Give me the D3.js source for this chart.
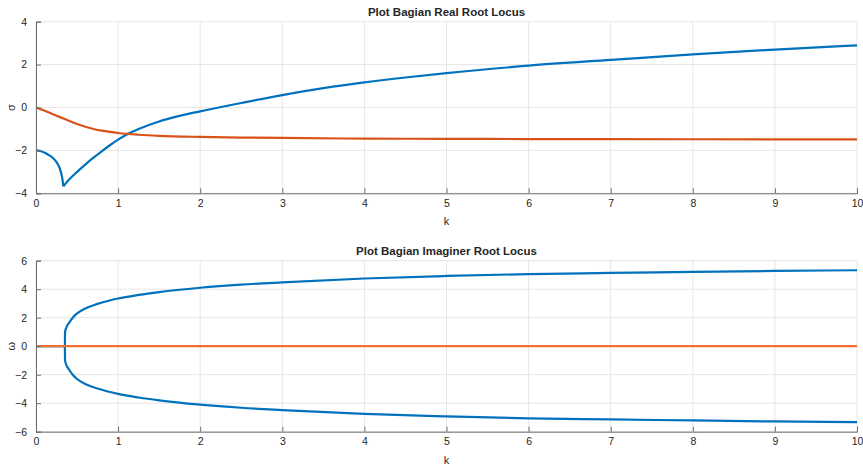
<!DOCTYPE html>
<html lang="en">
  <head>
    <meta charset="UTF-8" />
    <title>Root Locus</title>
    <script src="https://cdn.jsdelivr.net/npm/d3@7"></script>
    <style>
      body { margin: 0; background: #fff; }
      text { font-family: "Liberation Sans", Arial, sans-serif; fill: #262626; }
    </style>
  </head>
  <body>
    <svg id="chart" width="863" height="465"></svg>
    <script>
      // x axis (gain k)
      const kTicks = [0, 1, 2, 3, 4, 5, 6, 7, 8, 9, 10];
      const sigmaTicks = [-4, -2, 0, 2, 4];
      const omegaTicks = [-6, -4, -2, 0, 2, 4, 6];

      // real part, blue branch (before and after the cusp)
      const blueReBefore = [
        [0, -2.0], [0.05, -2.03], [0.1, -2.1], [0.15, -2.2], [0.2, -2.33],
        [0.25, -2.55], [0.28, -2.75], [0.3, -2.97], [0.32, -3.3], [0.333, -3.68]
      ];
      const blueReAfter = [
        [0.333, -3.68], [0.36, -3.55], [0.4, -3.37], [0.5, -3.0], [0.6, -2.66],
        [0.7, -2.34], [0.8, -2.04], [0.9, -1.76], [1.0, -1.5], [1.1, -1.27],
        [1.25, -1.0], [1.5, -0.65], [1.75, -0.39], [2, -0.18], [2.5, 0.21],
        [3, 0.58], [3.5, 0.9], [4, 1.17], [4.5, 1.4], [5, 1.6], [6, 1.95],
        [7, 2.22], [8, 2.48], [9, 2.7], [10, 2.9]
      ];
      // real part, orange branch
      const orangeRe = [
        [0, 0], [0.1, -0.14], [0.2, -0.3], [0.3, -0.46], [0.4, -0.62],
        [0.5, -0.77], [0.6, -0.9], [0.7, -1.0], [0.8, -1.08], [0.9, -1.14],
        [1.0, -1.19], [1.25, -1.27], [1.5, -1.32], [2, -1.37], [2.5, -1.4],
        [3, -1.42], [4, -1.45], [5, -1.46], [6, -1.47], [8, -1.48], [10, -1.49]
      ];

      // imaginary part, blue branch (upper and lower)
      const blueImFlat = [[0, 0], [0.352, 0]];
      const blueImUpper = [
        [0.352, 0], [0.354, 1.0], [0.37, 1.32], [0.4, 1.62], [0.45, 2.02],
        [0.5, 2.3], [0.6, 2.65], [0.75, 2.97], [1, 3.35], [1.25, 3.6],
        [1.5, 3.8], [2, 4.1], [2.5, 4.32], [3, 4.48], [4, 4.75], [5, 4.93],
        [6, 5.06], [7, 5.14], [8, 5.21], [9, 5.28], [10, 5.33]
      ];
      const blueImLower = [
        [0.352, 0], [0.354, -1.0], [0.37, -1.32], [0.4, -1.62], [0.45, -2.02],
        [0.5, -2.3], [0.6, -2.65], [0.75, -2.97], [1, -3.35], [1.25, -3.6],
        [1.5, -3.8], [2, -4.1], [2.5, -4.32], [3, -4.48], [4, -4.75], [5, -4.93],
        [6, -5.06], [7, -5.14], [8, -5.21], [9, -5.28], [10, -5.33]
      ];
      // imaginary part, orange branch
      const orangeIm = [[0, 0], [10, 0]];

      const svg = d3.select("#chart");
      const left = 36, right = 857;

      function drawPanel(p) {
        const x = d3.scaleLinear().domain([0, 10]).range([left, right]);
        const y = d3.scaleLinear().domain(p.domain).range([p.bottom, p.top]);
        const g = svg.append("g");

        // grid
        g.selectAll(".gx").data(kTicks).enter().append("line")
          .attr("x1", (d) => x(d)).attr("x2", (d) => x(d))
          .attr("y1", p.top).attr("y2", p.bottom)
          .attr("stroke", "#e6e6e6").attr("stroke-width", 1);
        g.selectAll(".gy").data(p.ticks).enter().append("line")
          .attr("x1", left).attr("x2", right)
          .attr("y1", (d) => y(d)).attr("y2", (d) => y(d))
          .attr("stroke", "#e6e6e6").attr("stroke-width", 1);

        // series
        const line = d3.line()
          .x((d) => x(d[0])).y((d) => y(d[1]))
          .curve(d3.curveMonotoneX);
        p.series.forEach((s) => {
          g.append("path").attr("d", line(s.data))
            .attr("fill", "none").attr("stroke", s.color)
            .attr("stroke-width", 2.2).attr("stroke-linejoin", "round");
        });

        // axes (MATLAB style, ticks pointing in)
        const xAxis = d3.axisBottom(x).tickValues(kTicks).tickSize(-5).tickPadding(9);
        const yAxis = d3.axisLeft(y).tickValues(p.ticks).tickSize(-5).tickPadding(9);
        const gx = g.append("g").attr("transform", `translate(0,${p.bottom})`).call(xAxis);
        const gy = g.append("g").attr("transform", `translate(${left},0)`).call(yAxis);
        [gx, gy].forEach((a) => {
          a.select(".domain").attr("stroke", "#6e6e6e");
          a.selectAll(".tick line").attr("stroke", "#6e6e6e");
          a.selectAll("text").attr("font-size", 10.5)
            .attr("font-family", "'Liberation Sans', Arial, sans-serif")
            .attr("fill", "#404040");
        });
        gx.selectAll("text").attr("dy", "0.71em").attr("y", 6);

        // title and labels
        g.append("text").attr("x", (left + right) / 2).attr("y", p.top - 6)
          .attr("text-anchor", "middle").attr("font-size", 11.5)
          .attr("font-weight", "bold").attr("fill", "#000").text(p.title);
        g.append("text").attr("x", (left + right) / 2).attr("y", p.bottom + 32)
          .attr("text-anchor", "middle").attr("font-size", 11)
          .attr("fill", "#404040").text("k");
        g.append("text")
          .attr("transform", `translate(15,${(p.top + p.bottom) / 2}) rotate(-90)`)
          .attr("text-anchor", "middle").attr("font-size", 11)
          .attr("fill", "#404040").text(p.ylabel);
      }

      drawPanel({
        top: 21.7, bottom: 193.3, domain: [-4, 4], ticks: sigmaTicks,
        title: "Plot Bagian Real Root Locus", ylabel: "σ",
        series: [
          { data: blueReBefore, color: "#0072bd" },
          { data: blueReAfter, color: "#0072bd" },
          { data: orangeRe, color: "#d95319" }
        ]
      });

      drawPanel({
        top: 260.7, bottom: 431.7, domain: [-6, 6], ticks: omegaTicks,
        title: "Plot Bagian Imaginer Root Locus", ylabel: "ω",
        series: [
          { data: blueImFlat, color: "#0072bd" },
          { data: blueImUpper, color: "#0072bd" },
          { data: blueImLower, color: "#0072bd" },
          { data: orangeIm, color: "#f0702f" }
        ]
      });
    </script>
  </body>
</html>
